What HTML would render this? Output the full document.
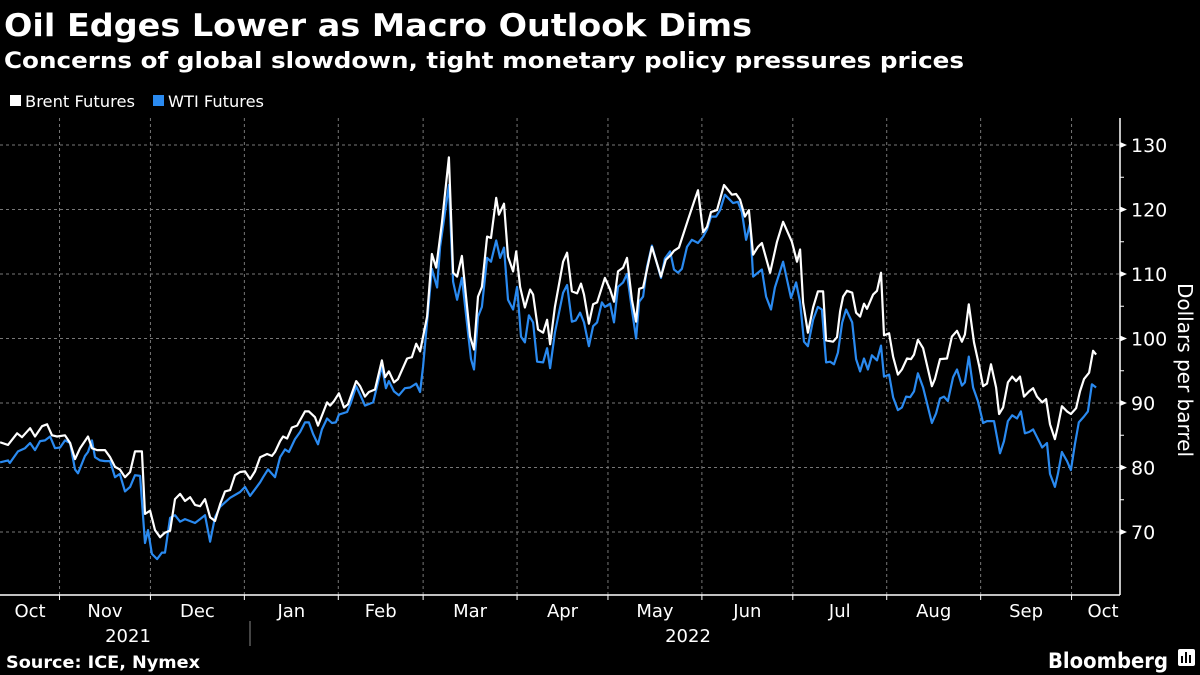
<!DOCTYPE html>
<html><head><meta charset="utf-8"><style>
html,body{margin:0;padding:0;background:#000;}
svg{display:block;font-family:"DejaVu Sans","Liberation Sans",sans-serif;}
</style></head><body>
<svg id="chart" width="1200" height="675" viewBox="0 0 1200 675">
<rect width="1200" height="675" fill="#000"/>
<text x="4" y="36" fill="#fff" font-size="31" font-weight="bold" textLength="748" lengthAdjust="spacingAndGlyphs">Oil Edges Lower as Macro Outlook Dims</text>
<text x="4" y="68" fill="#fff" font-size="22" font-weight="bold" textLength="960" lengthAdjust="spacingAndGlyphs">Concerns of global slowdown, tight monetary policy pressures prices</text>
<g>
<g><rect x="10" y="95" width="11" height="11" fill="#fff"/><text x="25" y="107" fill="#fff" font-size="16" textLength="110" lengthAdjust="spacingAndGlyphs">Brent Futures</text></g>
<g><rect x="153" y="95" width="11" height="11" fill="#2a8af0"/><text x="168" y="107" fill="#fff" font-size="16" textLength="96" lengthAdjust="spacingAndGlyphs">WTI Futures</text></g>
</g>
<g id="grid"></g>
<g id="axes"></g>
<g id="series"></g>
<text transform="translate(1178,370) rotate(90)" text-anchor="middle" fill="#fff" font-size="20">Dollars per barrel</text>
<text x="6" y="668" fill="#fff" font-size="17" font-weight="bold" textLength="194" lengthAdjust="spacingAndGlyphs">Source: ICE, Nymex</text>
<text x="1048" y="668" fill="#fff" font-size="21" font-weight="bold" textLength="120" lengthAdjust="spacingAndGlyphs">Bloomberg</text>
<g><rect x="1178" y="649" width="17" height="17" rx="2" fill="#fff"/><rect x="1181" y="656" width="2" height="7" fill="#000"/><rect x="1185" y="652" width="2" height="11" fill="#000"/><rect x="1189" y="655" width="2" height="8" fill="#000"/></g>
</svg>
<script>
// x: calendar day index since 2021-10-01
const brentDays=[11.4,14.0,17.0,18.6,21.3,22.9,25.2,26.9,28.5,30.2,32.8,34.5,36.1,37.8,40.4,41.7,43.4,46.0,47.7,49.3,50.9,52.6,54.3,55.9,58.2,59.2,60.9,62.5,64.2,65.8,67.5,69.1,70.8,72.4,74.1,75.7,77.4,79.0,80.7,82.3,84.0,85.6,87.3,88.9,90.6,92.2,93.9,95.5,97.2,99.5,101.1,102.1,103.8,104.8,106.1,107.7,109.4,112.0,113.3,115.3,116.3,119.3,120.3,121.6,123.2,124.9,126.2,128.9,130.2,131.8,133.1,135.1,137.4,138.4,139.7,141.4,142.7,145.7,147.3,148.7,150.0,152.3,153.9,155.3,157.2,159.5,160.9,162.2,163.8,166.5,167.8,169.1,170.4,172.1,173.4,175.1,176.0,177.7,179.0,180.7,181.7,183.0,184.6,186.3,187.3,188.9,190.6,191.9,192.9,194.5,197.2,198.5,200.1,201.8,203.1,204.1,205.7,207.1,208.4,211.0,212.7,214.0,215.3,217.0,218.3,219.9,221.3,222.3,223.6,224.9,226.5,229.5,231.1,232.8,233.8,235.4,238.4,240.4,241.7,243.4,244.7,246.0,248.0,250.3,252.9,254.3,255.6,257.2,258.5,259.9,261.5,262.8,265.5,267.8,269.8,272.7,274.4,275.4,276.4,278.0,279.7,281.3,283.0,284.0,286.3,287.6,288.6,289.6,290.9,292.6,293.9,295.2,296.5,297.5,299.5,300.8,302.1,303.1,304.8,306.1,307.7,309.0,310.7,312.0,313.0,314.3,316.0,318.9,319.9,321.6,323.9,325.5,327.2,328.8,329.8,331.1,332.8,334.5,335.8,337.1,338.4,340.1,341.1,342.4,344.0,345.4,346.7,348.0,349.3,351.0,352.3,353.6,355.3,356.6,357.9,359.5,360.5,361.8,363.5,364.8,366.5,367.8,369.1,370.8,372.1,373.1];
const brentValues=[83.9,83.5,85.3,84.7,86.1,84.8,86.4,86.7,85.0,84.8,85.0,83.8,81.3,83.0,84.8,83.0,82.7,82.7,81.6,80.1,79.7,78.5,79.3,82.5,82.5,72.8,73.3,70.3,69.2,69.9,70.2,75.1,75.9,74.8,75.4,74.2,74.0,75.1,72.3,71.7,74.3,76.3,76.5,78.8,79.3,79.4,78.2,79.4,81.6,82.1,81.8,82.4,84.1,84.8,84.5,86.2,86.5,88.7,88.7,87.8,86.5,90.1,89.6,90.3,91.5,89.3,89.8,93.4,92.6,91.0,91.7,92.1,96.6,94.0,94.9,93.2,93.7,96.9,97.1,99.2,98.0,103.4,113.1,111.0,117.9,128.1,110.2,109.6,112.8,100.3,98.3,106.5,108.0,115.8,115.6,121.8,119.2,120.9,112.7,110.4,113.5,108.0,104.8,107.6,106.8,101.4,100.9,102.9,99.1,104.9,111.9,113.3,107.3,107.0,108.5,106.8,102.3,105.3,105.6,109.4,107.6,105.7,110.4,111.0,112.5,106.0,102.6,107.7,107.9,110.7,114.2,109.6,112.2,113.0,113.6,114.1,118.4,121.2,123.0,116.5,117.3,119.6,119.9,123.8,122.3,122.4,121.5,118.9,119.9,113.0,114.2,114.8,110.2,115.0,118.1,115.0,111.9,113.8,105.6,100.9,104.8,107.3,107.3,99.7,99.5,100.2,104.2,106.5,107.4,107.1,104.0,103.4,105.4,104.6,106.8,107.4,110.2,100.5,100.8,97.2,94.4,95.2,96.9,96.8,97.5,99.8,98.5,92.6,93.7,96.8,96.9,100.3,101.2,99.5,100.6,105.3,99.4,95.8,92.6,93.0,96.0,92.4,88.3,89.3,93.2,94.1,93.4,94.1,91.0,91.8,92.3,91.0,90.1,90.6,86.7,84.4,86.4,89.5,88.7,88.3,89.2,91.8,93.7,94.7,98.1,97.5];
const wtiDays=[11.4,14.0,14.6,17.3,19.6,21.3,22.9,24.6,26.2,27.9,29.5,31.2,32.8,34.5,36.1,37.1,39.4,40.4,41.7,42.7,44.4,46.0,47.7,49.3,50.9,52.6,54.3,55.9,57.6,59.2,60.2,61.5,63.2,64.8,65.8,67.5,69.1,70.8,72.4,75.7,77.4,79.0,80.7,82.3,84.0,87.3,90.6,92.2,93.9,97.2,98.2,99.8,102.1,103.8,105.4,106.7,108.7,110.4,112.0,113.3,114.7,116.3,117.6,119.3,120.9,122.2,123.2,125.9,127.2,128.9,130.2,131.8,134.5,135.8,137.4,138.7,139.7,141.4,143.0,145.0,146.7,148.7,150.0,151.0,153.9,155.6,156.6,159.5,160.9,162.2,163.8,166.8,167.8,169.1,170.4,172.1,173.4,175.1,176.4,177.7,179.0,180.7,182.0,183.3,184.6,185.9,187.3,188.6,190.6,191.9,192.9,194.5,197.2,198.5,200.1,201.4,202.8,204.1,205.7,207.1,208.4,210.0,211.0,212.7,214.0,215.3,217.0,218.3,219.9,221.3,222.3,223.6,224.9,226.5,229.5,230.8,232.5,233.8,235.1,236.4,238.1,239.7,241.7,243.4,244.7,246.0,247.7,249.0,250.6,253.3,254.9,256.2,257.6,258.9,259.9,262.8,264.2,265.8,267.1,269.8,272.4,274.1,275.4,276.7,278.0,279.7,281.3,282.6,284.0,285.3,286.6,287.9,289.3,290.6,292.6,293.9,295.2,296.5,297.8,299.1,300.8,302.1,303.1,304.8,306.1,307.7,309.0,310.4,311.7,313.0,314.3,316.0,318.9,320.3,321.6,322.9,324.2,325.9,327.2,328.8,329.8,331.1,332.5,334.1,335.8,337.1,339.4,341.4,342.7,344.0,345.4,347.0,348.3,349.6,351.0,352.3,355.3,356.9,357.9,359.5,360.5,361.8,363.5,364.8,366.1,367.4,369.1,370.4,371.7,373.1];
const wtiValues=[80.8,81.1,80.7,82.5,83.0,83.8,82.7,84.1,84.2,84.8,83.0,83.1,84.2,83.8,79.7,79.1,81.8,82.4,84.2,81.6,81.1,81.0,81.0,78.5,79.0,76.3,77.0,78.8,78.7,68.3,70.3,66.6,65.8,66.8,66.8,72.2,72.6,71.6,72.0,71.4,72.0,72.6,68.5,72.3,73.9,75.3,76.2,77.0,75.6,77.7,78.5,79.7,78.5,81.6,82.8,82.4,84.4,85.5,87.0,87.0,85.2,83.6,85.9,87.6,86.9,87.0,88.2,88.6,90.1,92.6,91.3,89.6,90.1,92.6,95.7,92.3,93.4,91.8,91.2,92.3,92.4,93.0,91.7,95.7,110.8,107.9,114.2,123.8,108.8,106.0,109.4,96.8,95.2,103.4,104.9,112.5,111.9,115.2,112.5,114.1,106.0,104.5,108.0,100.3,99.4,103.6,102.5,96.4,96.3,98.5,95.4,100.9,107.1,108.3,102.6,102.8,104.0,102.5,98.8,101.9,102.5,105.6,104.9,105.4,102.5,108.0,108.7,110.0,104.5,100.0,105.7,106.5,111.1,114.4,109.4,112.4,113.5,110.7,110.2,110.8,114.2,115.3,114.8,115.8,116.9,118.9,118.9,119.9,122.3,121.0,121.2,119.6,115.3,117.8,109.6,110.7,106.5,104.5,107.9,111.9,106.3,108.7,105.6,99.5,98.8,102.9,104.9,104.5,96.3,96.4,96.0,97.8,102.5,104.5,102.5,96.8,94.9,96.9,95.2,97.4,96.6,98.9,94.1,94.4,90.9,88.9,89.3,91.0,90.9,91.8,94.6,92.4,86.9,88.4,90.7,91.0,90.3,94.0,95.2,92.7,93.2,97.2,92.4,90.3,86.9,87.2,87.2,82.2,84.1,87.2,88.1,87.6,88.7,85.3,85.5,85.9,83.1,83.8,79.0,77.0,79.0,82.4,81.0,79.6,83.6,87.0,87.9,88.7,92.9,92.4];
const yTicks=[70,80,90,100,110,120,130];
const monthLabels=["Oct","Nov","Dec","Jan","Feb","Mar","Apr","May","Jun","Jul","Aug","Sep","Oct"];
const monthStarts=[0,31,61,92,123,151,182,212,243,273,304,335,365];
const yearLabels=["2021","2022"];

const NS="http://www.w3.org/2000/svg";
const plotL=0,plotR=1120,plotT=118,plotB=595;
function xScale(d){return -34.4+d*3.03;}
function yScale(v){return 145+(130-v)*6.45;}
function mk(tag,attrs,parent){const e=document.createElementNS(NS,tag);for(const k in attrs)e.setAttribute(k,attrs[k]);parent.appendChild(e);return e;}
const grid=document.getElementById('grid'),axes=document.getElementById('axes'),series=document.getElementById('series');

yTicks.forEach(v=>{
  const y=yScale(v);
  const g=mk('line',{x1:plotL,x2:plotR,y1:y,y2:y,stroke:'#777','stroke-width':1,'stroke-dasharray':'3,3'},grid);
  
  
  const t=mk('text',{x:1131,y:y+7,fill:'#fff','font-size':19},axes);
  t.textContent=v;
  
  
  const p=mk('path',{d:`M${plotR} ${y-3}L${plotR+7} ${y}L${plotR} ${y+3}Z`,fill:'#fff'},axes);
  
  
  if(v<130){const ym=yScale(v+5);const m=mk('line',{x1:plotR,x2:plotR+4,y1:ym,y2:ym,stroke:'#fff'},axes);
  
  }
});
monthStarts.forEach((d,i)=>{
  if(i===0)return;
  const x=xScale(d);
  const g=mk('line',{x1:x,x2:x,y1:plotT,y2:plotB,stroke:'#777','stroke-width':1,'stroke-dasharray':'3,3'},grid);
  
  
  const tk=mk('line',{x1:x,x2:x,y1:plotB,y2:plotB+5,stroke:'#fff'},axes);
  
  
});
monthLabels.forEach((m,i)=>{
  const a=i===0?xScale(11):xScale(monthStarts[i]);
  const b=i<monthLabels.length-1?xScale(monthStarts[i+1]):plotR;
  const cx=i===monthLabels.length-1?1103:(a+b)/2;
  const t=mk('text',{x:i===0?30:cx,y:617,fill:'#fff','font-size':18,'text-anchor':'middle'},axes);
  t.textContent=m;
  
  
});
const ySep=250;
const sep=mk('line',{x1:ySep,x2:ySep,y1:621,y2:646,stroke:'#888'},axes);


[[128,yearLabels[0]],[688,yearLabels[1]]].forEach(([x,l])=>{
  const t=mk('text',{x:x,y:642,fill:'#fff','font-size':18,'text-anchor':'middle'},axes);
  t.textContent=l;
  
  
});
const xa=mk('line',{x1:0,x2:plotR,y1:plotB,y2:plotB,stroke:'#fff','stroke-width':1.5},axes);


const ya=mk('line',{x1:plotR,x2:plotR,y1:plotT,y2:plotB,stroke:'#fff','stroke-width':1.5},axes);



function line(days,vals,color,name){
  const d=days.map((dd,i)=>(i?'L':'M')+xScale(dd).toFixed(1)+' '+yScale(vals[i]).toFixed(1)).join('');
  const p=mk('path',{d:d,fill:'none',stroke:color,'stroke-width':2.2,'stroke-linejoin':'round'},series);
  
  
}
line(wtiDays,wtiValues,'#2a8af0','wti-line');
line(brentDays,brentValues,'#ffffff','brent-line');
</script>
</body></html>
